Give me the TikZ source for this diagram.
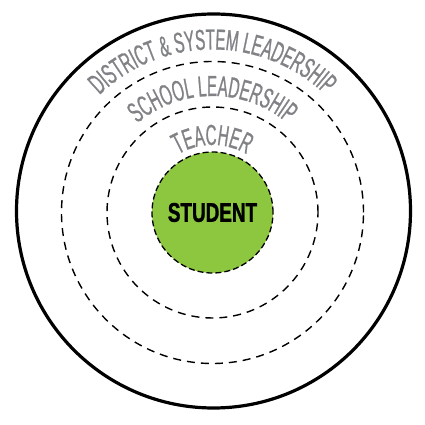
\documentclass[tikz,border=0pt]{standalone}
\usepackage{fontspec}
\usetikzlibrary{decorations.text}

\newfontfamily\ringfont[FakeStretch=0.52, FakeBold=0.8]{Liberation Sans}
\newfontfamily\studentfont[FakeStretch=0.7, FakeBold=1.2]{Liberation Sans}
\definecolor{ringgray}{RGB}{128,130,133}
\definecolor{studentgreen}{RGB}{141,198,63}
\newcommand\ringtext{\ringfont\fontsize{29}{32}\selectfont\color{ringgray}}

\tikzset{
  ring/.style={line width=1.4pt, dash pattern=on 8pt off 6pt},
  ringlabel/.style={decorate, decoration={text along path, text align=center, text={|\ringtext|#1}}},
  studentdot/.style={circle, draw, fill=studentgreen, line width=1.3pt, dash pattern=on 6pt off 3pt,
    minimum size=121pt, inner sep=0pt, font=\studentfont\bfseries\fontsize{27}{30}\selectfont}
}

\begin{document}
\begin{tikzpicture}[x=1pt, y=1pt]
                        \useasboundingbox (0,0) rectangle (425,425);
                        \coordinate (c) at (212.5,212.5);
                        \draw[line width=3.2pt] (213.5,214) circle[radius=197];
                        \draw[ring] (c) circle[radius=151];
                        \draw[ring] (c) circle[radius=105.5];
                        \node[studentdot] (student) at (c) {STUDENT};
                        \path[ringlabel={DISTRICT {\&} SYSTEM LEADERSHIP}] (c) ++(180:163) arc[start angle=180, end angle=0, radius=163];
                        \path[ringlabel={SCHOOL LEADERSHIP}] (c) ++(180:116.5) arc[start angle=180, end angle=0, radius=116.5];
                        \path[ringlabel={TEACHER}] (c) ++(180:67.5) arc[start angle=180, end angle=0, radius=67.5];
                    \end{tikzpicture}
\end{document}
